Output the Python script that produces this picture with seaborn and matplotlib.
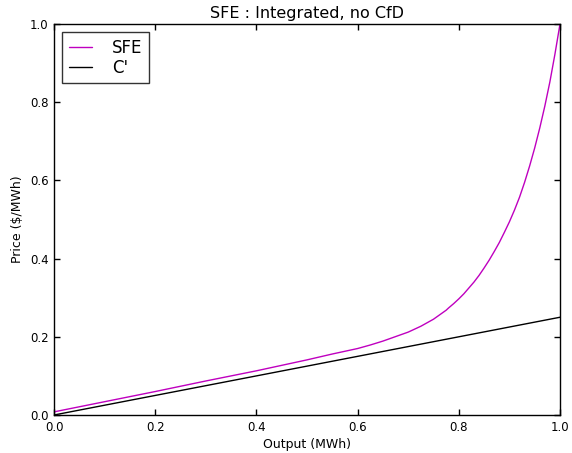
import numpy as np
import pandas as pd
import seaborn as sns
import matplotlib
matplotlib.use("Agg")
import matplotlib.pyplot as plt

# Supply-function-equilibrium price curve
sfe_output = [0.0, 0.1, 0.2, 0.3, 0.4, 0.5, 0.55, 0.6, 0.625, 0.65, 0.7, 0.725,
              0.75, 0.775, 0.78, 0.79, 0.80, 0.81, 0.82, 0.83, 0.84, 0.85, 0.86,
              0.87, 0.88, 0.89, 0.90, 0.91, 0.92, 0.93, 0.94, 0.95, 0.96, 0.97,
              0.98, 0.99, 1.0]
sfe_price = [0.008, 0.034, 0.060, 0.087, 0.113, 0.141, 0.156, 0.170, 0.179, 0.189,
             0.212, 0.227, 0.245, 0.268, 0.274, 0.285, 0.297, 0.310, 0.325, 0.340,
             0.357, 0.376, 0.396, 0.418, 0.441, 0.467, 0.494, 0.524, 0.557, 0.595,
             0.637, 0.683, 0.734, 0.790, 0.852, 0.923, 1.0]

# Marginal cost C'
mc_output = [0.0, 1.0]
mc_price = [0.0, 0.25]

df = pd.concat([
    pd.DataFrame({"Output": sfe_output, "Price": sfe_price, "series": "SFE"}),
    pd.DataFrame({"Output": mc_output, "Price": mc_price, "series": "C'"}),
], ignore_index=True)

sns.set_style("white", {
    "xtick.direction": "in", "ytick.direction": "in",
    "xtick.top": True, "ytick.right": True,
    "xtick.bottom": True, "ytick.left": True,
    "axes.edgecolor": "black",
    "text.color": "black", "axes.labelcolor": "black",
    "xtick.color": "black", "ytick.color": "black",
})
plt.rcParams["font.family"] = ["DejaVu Sans"]

fig = plt.figure(figsize=(5.72, 4.53), dpi=100)
ax = fig.add_axes([54 / 572, 1 - 415 / 453, 506 / 572, 391 / 453])

sns.lineplot(data=df, x="Output", y="Price", hue="series",
             palette={"SFE": "m", "C'": "k"}, linewidth=1.0,
             sort=False, estimator=None, ax=ax)

ax.set_xlim(0, 1)
ax.set_ylim(0, 1)
ax.set_xticks([0, 0.2, 0.4, 0.6, 0.8, 1.0])
ax.set_yticks([0, 0.2, 0.4, 0.6, 0.8, 1.0])
ax.tick_params(which="both", direction="in", length=4, width=1,
               top=True, right=True, labelsize=8.5, pad=4,
               colors="black")
for s in ax.spines.values():
    s.set_linewidth(1.0)
    s.set_color("black")

ax.set_xlabel("Output (MWh)", fontsize=9, labelpad=3, color="black")
ax.set_ylabel("Price ($/MWh)", fontsize=9, labelpad=4, color="black")
ax.set_title("SFE : Integrated, no CfD", fontsize=11.5, pad=4, color="black")

leg = ax.legend(loc="upper left", fontsize=12, frameon=True, fancybox=False,
                handlelength=1.4, borderpad=0.4, labelspacing=0.1,
                handletextpad=1.2, borderaxespad=0.5)
leg.get_frame().set_edgecolor("black")
leg.get_frame().set_linewidth(1.0)
for t in leg.get_texts():
    t.set_color("black")

fig.savefig("out.png", dpi=100)
